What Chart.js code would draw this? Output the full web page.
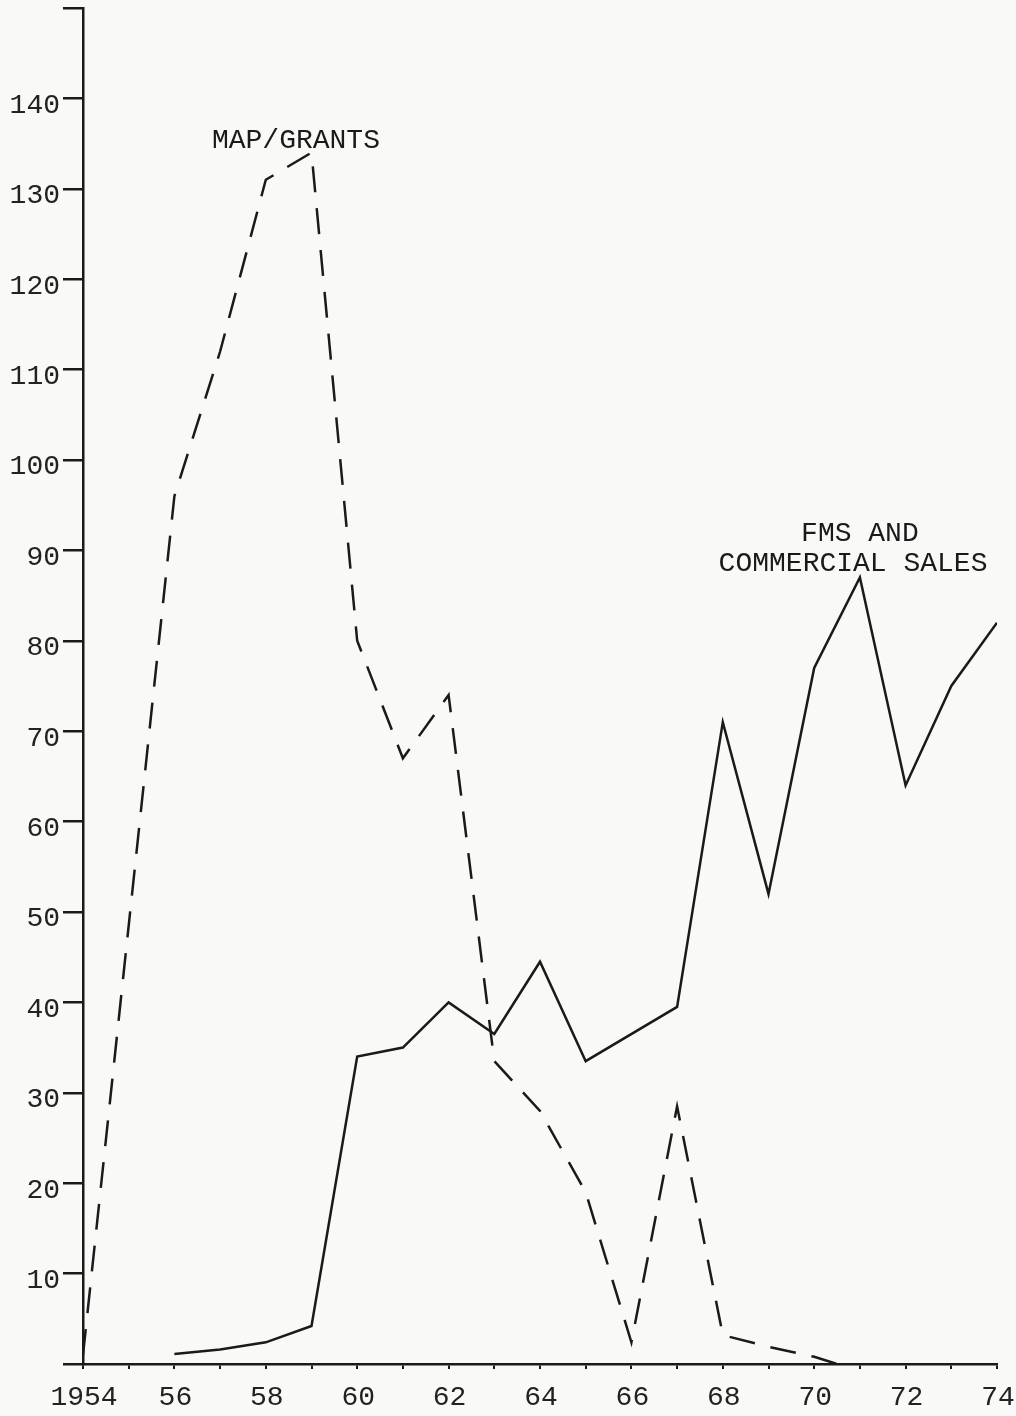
<!DOCTYPE html>
<html>
<head>
<meta charset="utf-8">
<title>MAP/Grants vs FMS and Commercial Sales</title>
<script src="https://cdn.jsdelivr.net/npm/chart.js@4.4.1/dist/chart.umd.min.js"></script>
<style>
  html, body { margin: 0; padding: 0; background: #f9f9f8; }
  canvas { display: block; }
</style>
</head>
<body>
<canvas id="graph" width="1016" height="1416"></canvas>
<script>
// valores (millones de dolares)
var mapYears = [1954, 1956, 1957, 1958, 1959, 1960, 1961, 1962, 1963, 1964, 1965, 1966, 1967, 1968, 1969, 1970, 1970.5];
var mapValues = [1, 96, 112, 131, 134, 80, 67, 74, 33.5, 28, 19, 2.4, 28.5, 3.2, 1.9, 0.8, 0];

var fmsYears = [1956, 1957, 1958, 1959, 1960, 1961, 1962, 1963, 1964, 1965, 1967, 1968, 1969, 1970, 1971, 1972, 1973, 1974];
var fmsValues = [1.1, 1.6, 2.4, 4.2, 34, 35, 40, 36.5, 44.5, 33.5, 39.5, 71, 52, 77, 87, 64, 75, 82];

// rotulos de las curvas, en coordenadas de datos
var noteTexts = ["MAP/GRANTS", "FMS AND", "COMMERCIAL SALES"];
var noteYears = [1958.66, 1971.0, 1970.85];
var noteValues = [135.3, 91.9, 88.5];

var ink = "#1a1a1a";
var typeFont = "'Liberation Mono', 'DejaVu Sans Mono', monospace";

function toPoints(xs, ys) {
  var pts = [];
  for (var i = 0; i < xs.length; i++) {
    pts.push({ x: xs[i], y: ys[i] });
  }
  return pts;
}

// dibuja los rotulos a mano sobre el grafico
var notesPlugin = {
  id: "notes",
  afterDatasetsDraw: function(chart) {
    var ctx = chart.ctx;
    var sx = chart.scales.x;
    var sy = chart.scales.y;
    ctx.save();
    ctx.font = "28px " + typeFont;
    ctx.fillStyle = ink;
    ctx.textAlign = "center";
    ctx.textBaseline = "middle";
    for (var i = 0; i < noteTexts.length; i++) {
      ctx.fillText(noteTexts[i], sx.getPixelForValue(noteYears[i]), sy.getPixelForValue(noteValues[i]));
    }
    ctx.restore();
  }
};

var bgPlugin = {
  id: "bg",
  beforeDraw: function(chart) {
    var ctx = chart.ctx;
    ctx.save();
    ctx.fillStyle = "#f9f9f8";
    ctx.fillRect(0, 0, chart.width, chart.height);
    ctx.restore();
  }
};

var ctx = document.getElementById("graph").getContext("2d");
var chart = new Chart(ctx, {
  type: "line",
  data: {
    datasets: [
      {
        label: "MAP/GRANTS",
        data: toPoints(mapYears, mapValues),
        borderColor: ink,
        borderWidth: 2.5,
        borderDash: [26, 16],
        pointRadius: 0,
        tension: 0,
        fill: false
      },
      {
        label: "FMS AND COMMERCIAL SALES",
        data: toPoints(fmsYears, fmsValues),
        borderColor: ink,
        borderWidth: 2.5,
        pointRadius: 0,
        tension: 0,
        fill: false
      }
    ]
  },
  options: {
    responsive: false,
    animation: false,
    layout: {
      autoPadding: false,
      padding: { left: 10, top: 8, right: 19, bottom: 0 }
    },
    plugins: {
      legend: { display: false },
      tooltip: { enabled: false }
    },
    scales: {
      x: {
        type: "linear",
        min: 1954,
        max: 1974,
        afterFit: function(scale) {
          scale.height = 52;
          scale.paddingLeft = 0;
          scale.paddingRight = 0;
        },
        border: { color: ink, width: 2.5 },
        grid: { drawOnChartArea: false, tickLength: 5, color: ink, lineWidth: 2 },
        ticks: {
          stepSize: 1,
          autoSkip: false,
          maxRotation: 0,
          padding: 12,
          labelOffset: 1,
          color: "#222",
          font: { family: typeFont, size: 28 },
          callback: function(v) {
            if (v === 1954) return "1954";
            return v % 2 === 0 ? String(v).slice(2) : "";
          }
        }
      },
      y: {
        min: 0,
        max: 150,
        afterFit: function(scale) {
          scale.width = 73;
          scale.paddingTop = 0;
          scale.paddingBottom = 0;
        },
        border: { color: ink, width: 2.5 },
        grid: { drawOnChartArea: false, tickLength: 20, color: ink, lineWidth: 2.5 },
        ticks: {
          stepSize: 10,
          padding: 3,
          labelOffset: 7,
          color: "#222",
          font: { family: typeFont, size: 28 },
          callback: function(v) {
            return (v === 0 || v === 150) ? "" : String(v);
          }
        }
      }
    }
  },
  plugins: [bgPlugin, notesPlugin]
});
</script>
</body>
</html>
